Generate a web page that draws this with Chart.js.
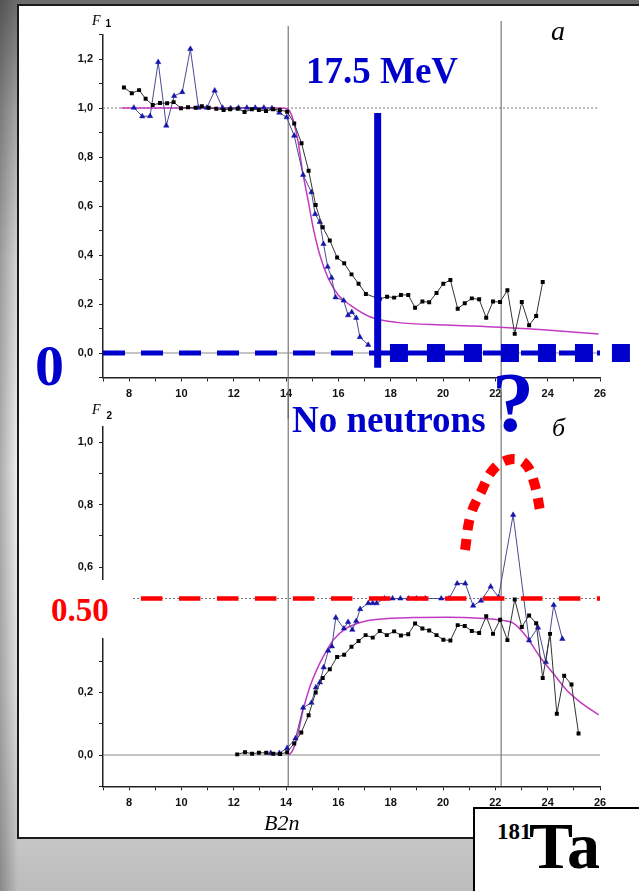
<!DOCTYPE html>
<html>
<head>
<meta charset="utf-8">
<script src="https://cdn.jsdelivr.net/npm/chart.js@4.4.0/dist/chart.umd.min.js"></script>
<style>
  html, body { margin: 0; padding: 0; }
  body {
    width: 639px;
    height: 891px;
    overflow: hidden;
    position: relative;
    background:
      linear-gradient(to right, rgba(40, 40, 40, 0.35), rgba(40, 40, 40, 0) 18px),
      linear-gradient(to bottom, #6c6c6c 0px, #a6a6a6 110px, #d8d8d8 260px, #f1f1f1 470px, #e2e2e2 680px, #c6c6c6 840px, #bcbcbc 891px);
  }
  #panel {
    position: absolute;
    left: 17px;
    top: 4px;
    width: 660px;
    height: 835px;
    box-sizing: border-box;
    border: 2px solid #1b1b1b;
    background: #fff;
  }
  canvas { position: absolute; left: 0; top: 0; }
  .note { position: absolute; white-space: nowrap; line-height: 1; }
  .serif { font-family: "Liberation Serif", "Times New Roman", serif; }
  .sans { font-family: "Liberation Sans", Arial, sans-serif; }
  .blue { color: #0000cc; font-weight: bold; }
  .red { color: #ff0000; font-weight: bold; }
  #cover { position: absolute; left: 45px; top: 580px; width: 88px; height: 58px; background: #fff; }
  #nucleus {
    position: absolute;
    left: 473px;
    top: 807px;
    width: 200px;
    height: 120px;
    box-sizing: border-box;
    border: 2px solid #000;
    background: #fff;
  }
</style>
</head>
<body>
<div id="panel"></div>
<canvas id="chartF1" width="639" height="891"></canvas>
<canvas id="chartF2" width="639" height="891"></canvas>

<div id="cover"></div>
<div class="note serif" style="left:92px; top:14px; font-size:14px; font-style:italic;">F</div>
<div class="note sans" style="left:105.5px; top:18.5px; font-size:10px; font-weight:bold;">1</div>
<div class="note serif" style="left:92px; top:403px; font-size:14px; font-style:italic;">F</div>
<div class="note sans" style="left:106.5px; top:410.5px; font-size:10px; font-weight:bold;">2</div>
<div class="note serif" style="left:551px; top:16.5px; font-size:28px; font-style:italic;">а</div>
<div class="note serif" style="left:552px; top:415px; font-size:26px; font-style:italic;">б</div>
<div class="note serif blue" style="left:306px; top:52px; font-size:37px;">17.5 MeV</div>
<div class="note serif blue" style="left:292px; top:401px; font-size:37px;">No neutrons</div>
<div class="note serif blue" style="left:492px; top:361px; font-size:84px;">?</div>
<div class="note serif blue" style="left:35px; top:337px; font-size:58px;">0</div>
<div class="note serif red" style="left:51px; top:594px; font-size:33px;">0.50</div>
<div class="note serif" style="left:264px; top:811.6px; font-size:22px; font-style:italic;">B2n</div>
<div id="nucleus"></div>
<div class="note serif" style="left:497px; top:820px; font-size:23px; font-weight:bold;">181</div>
<div class="note serif" style="left:529px; top:813px; font-size:66px; font-weight:bold;">Ta</div>

<script>
// F1 panel (a): black squares
const f1SquaresX = [7.80, 8.10, 8.38, 8.63, 8.90, 9.18, 9.45, 9.70, 9.98, 10.25,
  10.54, 10.78, 11.04, 11.33, 11.61, 11.86, 12.15, 12.41, 12.69, 12.96,
  13.23, 13.50, 13.76, 14.04, 14.31, 14.59, 14.86, 15.13, 15.40, 15.67,
  15.95, 16.22, 16.50, 16.77, 17.05, 17.58, 17.86, 18.13, 18.39, 18.67,
  18.93, 19.21, 19.47, 19.75, 20.01, 20.28, 20.56, 20.83, 21.10, 21.38,
  21.65, 21.91, 22.18, 22.46, 22.74, 23.01, 23.29, 23.56, 23.81];
const f1SquaresY = [1.084, 1.060, 1.073, 1.038, 1.012, 1.020, 1.019, 1.024, 0.999, 1.003,
  1.001, 1.007, 1.001, 0.997, 0.992, 0.995, 0.997, 0.984, 0.995, 0.992,
  0.988, 0.995, 0.992, 0.985, 0.937, 0.856, 0.744, 0.604, 0.513, 0.459,
  0.390, 0.366, 0.321, 0.283, 0.241, 0.220, 0.230, 0.226, 0.237, 0.237,
  0.185, 0.210, 0.207, 0.245, 0.283, 0.298, 0.181, 0.203, 0.223, 0.219,
  0.144, 0.210, 0.208, 0.256, 0.078, 0.208, 0.113, 0.151, 0.290];

// F1 panel (a): blue triangles
const f1TrianglesX = [8.18, 8.50, 8.80, 9.11, 9.42, 9.72, 10.03, 10.34, 10.65, 10.97,
  11.27, 11.57, 11.88, 12.18, 12.50, 12.82, 13.15, 13.46, 13.74, 14.02,
  14.31, 14.65, 14.97, 15.11, 15.29, 15.43, 15.59, 15.74, 15.89, 16.20,
  16.37, 16.51, 16.68, 16.82, 17.14];
const f1TrianglesY = [1.001, 0.966, 0.967, 1.187, 0.928, 1.049, 1.065, 1.241, 1.001, 1.001,
  1.071, 1.001, 0.999, 1.001, 1.001, 1.001, 1.001, 0.999, 0.981, 0.962,
  0.887, 0.727, 0.656, 0.567, 0.535, 0.445, 0.352, 0.307, 0.227, 0.214,
  0.154, 0.167, 0.143, 0.065, 0.033];

// F1 panel (a): fitted curve
const f1CurveX = [7.7, 9, 10, 11, 12, 13, 13.8, 14.0, 14.15, 14.27, 14.46, 14.63,
  14.85, 15.04, 15.29, 15.61, 15.99, 16.44, 17.2, 18.22, 20.13, 22.17, 24.46, 25.95];
const f1CurveY = [1.0, 1.0, 1.0, 1.0, 1.0, 1.0, 1.0, 0.998, 0.985, 0.951, 0.862, 0.740,
  0.618, 0.509, 0.400, 0.305, 0.237, 0.196, 0.148, 0.125, 0.114, 0.105, 0.090, 0.078];

// F2 panel (б): black squares
const f2SquaresX = [12.13, 12.43, 12.70, 12.96, 13.24, 13.51, 13.77, 14.04,
  14.31, 14.58, 14.86, 15.13, 15.40, 15.67, 15.95, 16.22, 16.50, 16.77,
  17.04, 17.31, 17.58, 17.85, 18.13, 18.39, 18.67, 18.93, 19.21, 19.47,
  19.75, 20.01, 20.28, 20.56, 20.83, 21.10, 21.38, 21.65, 21.91, 22.18,
  22.46, 22.74, 23.01, 23.29, 23.56, 23.81, 24.09, 24.35, 24.63, 24.91, 25.18];
const f2SquaresY = [0.002, 0.009, 0.004, 0.007, 0.007, 0.004, 0.003, 0.009,
  0.037, 0.072, 0.127, 0.200, 0.246, 0.274, 0.313, 0.320, 0.346, 0.364,
  0.383, 0.375, 0.396, 0.383, 0.395, 0.382, 0.386, 0.420, 0.404, 0.398,
  0.383, 0.368, 0.366, 0.415, 0.412, 0.396, 0.390, 0.443, 0.387, 0.432,
  0.367, 0.497, 0.409, 0.446, 0.421, 0.246, 0.387, 0.132, 0.253, 0.225, 0.069];

// F2 panel (б): blue triangles
const f2TrianglesX = [13.41, 13.74, 14.04, 14.36, 14.65, 14.97, 15.14, 15.29, 15.44, 15.61,
  15.75, 15.90, 16.21, 16.37, 16.53, 16.68, 16.83, 17.14, 17.31, 17.46,
  17.76, 18.07, 18.37, 18.68, 18.98, 19.32, 19.93, 20.23, 20.54, 20.85,
  21.15, 21.45, 21.82, 22.12, 22.68, 23.29, 23.63, 23.93, 24.23, 24.56];
const f2TrianglesY = [0.006, 0.006, 0.022, 0.053, 0.151, 0.167, 0.216, 0.232, 0.280, 0.333,
  0.347, 0.439, 0.404, 0.425, 0.400, 0.428, 0.466, 0.485, 0.485, 0.485,
  0.500, 0.500, 0.500, 0.500, 0.500, 0.500, 0.500, 0.500, 0.548, 0.548,
  0.477, 0.493, 0.538, 0.504, 0.767, 0.366, 0.407, 0.297, 0.479, 0.371];

// F2 panel (б): fitted curve
const f2CurveX = [14.12, 14.25, 14.4, 14.65, 14.91, 15.17, 15.42, 15.8, 16.31, 16.95, 17.58,
  18.86, 20.13, 21.41, 22.17, 22.68, 23.19, 23.70, 24.21, 24.72, 25.23, 25.95];
const f2CurveY = [0.0, 0.015, 0.048, 0.144, 0.218, 0.272, 0.314, 0.367, 0.405, 0.426, 0.434,
  0.439, 0.440, 0.437, 0.431, 0.421, 0.378, 0.314, 0.261, 0.208, 0.170, 0.128];

// row of blocks on the zero line past the threshold (start, end of the run)
const noNeutronRun = [17.97, 27.18];
// dotted arc over the F2 spike
const arcX = [20.84, 21.05, 21.45, 21.95, 22.6, 23.15, 23.5, 23.72];
const arcY = [0.655, 0.765, 0.84, 0.915, 0.945, 0.93, 0.865, 0.775];

const thresholdMeV = 17.5;
const halfLevel = 0.5;
const markerLinesX = [14.08, 22.22];

const BLUE = "#0000cc";
const RED = "#ff0000";

function pts(xs, ys) {
  return xs.map((x, i) => ({ x, y: ys[i] }));
}

function line(data, color, width, extra) {
  return Object.assign(
    { data, showLine: true, borderColor: color, borderWidth: width, pointRadius: 0, fill: false },
    extra,
  );
}

function squares(data, order) {
  return {
    data, order, showLine: true,
    borderColor: "#333", borderWidth: 1,
    pointStyle: "rect", pointRadius: 2.8,
    pointBackgroundColor: "#000", pointBorderColor: "#000", pointBorderWidth: 0,
  };
}

function triangles(data, order) {
  return {
    data, order, showLine: true,
    borderColor: "#4a4a92", borderWidth: 1,
    pointStyle: "triangle", pointRadius: 3.1,
    pointBackgroundColor: "#1414a8", pointBorderColor: "#1414a8", pointBorderWidth: 0.5,
  };
}

function curve(data, order) {
  return line(data, "#c23ac2", 1.5, { order, cubicInterpolationMode: "monotone" });
}

function scales(yMin, yMax) {
  const tickFont = { family: "'Liberation Sans', Arial, sans-serif", weight: "bold", size: 11 };
  return {
    x: {
      type: "linear", min: 7, max: 26,
      afterFit: (s) => { s.height = 30; },
      ticks: {
        stepSize: 1, autoSkip: false, maxRotation: 0, padding: 6, color: "#111", font: tickFont,
        callback: (v) => (v % 2 === 0 ? String(v) : ""),
      },
      grid: { drawOnChartArea: false, drawTicks: true, tickLength: 4, color: "#222", lineWidth: 1 },
      border: { display: true, color: "#222", width: 1.5 },
    },
    y: {
      type: "linear", min: yMin, max: yMax,
      afterFit: (s) => { s.width = 45; },
      afterBuildTicks: (s) => {
        s.ticks = s.ticks.filter((t) => Math.abs(t.value * 10 - Math.round(t.value * 10)) < 1e-6);
      },
      ticks: {
        stepSize: 0.1, padding: 6, color: "#111", font: tickFont,
        callback: (v) => {
          const k = Math.round(v * 10);
          return k >= 0 && k % 2 === 0 ? (k / 10).toFixed(1).replace(".", ",") : "";
        },
      },
      grid: { drawOnChartArea: false, drawTicks: true, tickLength: 4, color: "#222", lineWidth: 1 },
      border: { display: true, color: "#222", width: 1.5 },
    },
  };
}

function makeChart(id, datasets, yMin, yMax, padding) {
  return new Chart(document.getElementById(id), {
    type: "scatter",
    data: { datasets },
    options: {
      responsive: false,
      animation: false,
      events: [],
      layout: { autoPadding: false, padding },
      plugins: { legend: { display: false }, tooltip: { enabled: false } },
      scales: scales(yMin, yMax),
    },
  });
}

// top panel: F1
makeChart("chartF1", [
  line([{ x: markerLinesX[0], y: -0.27 }, { x: markerLinesX[0], y: 1.335 }], "#5e5e5e", 1, { order: 10, clip: false }),
  line([{ x: markerLinesX[1], y: -0.27 }, { x: markerLinesX[1], y: 1.355 }], "#5e5e5e", 1, { order: 10, clip: false }),
  line([{ x: 7, y: 1 }, { x: 25.9, y: 1 }], "#777", 1, { order: 9, borderDash: [2, 2] }),
  line([{ x: 7, y: 0 }, { x: 26, y: 0 }], "#888", 1, { order: 9 }),
  curve(pts(f1CurveX, f1CurveY), 6),
  triangles(pts(f1TrianglesX, f1TrianglesY), 5),
  squares(pts(f1SquaresX, f1SquaresY), 4),
  line([{ x: 7, y: 0 }, { x: 26, y: 0 }], BLUE, 5, { order: 3, borderDash: [22, 16], borderCapStyle: "butt" }),
  // blocks: 18px squares every 37px along y = 0
  line(noNeutronRun.map((x) => ({ x, y: 0 })), BLUE, 18, { order: 2, clip: false, borderDash: [18, 19], borderCapStyle: "butt" }),
  line([{ x: thresholdMeV, y: -0.06 }, { x: thresholdMeV, y: 0.98 }], BLUE, 7, { order: 1, borderCapStyle: "butt" }),
], -0.1, 1.3, { left: 58, right: 39, top: 34.5, bottom: 483.5 });

// bottom panel: F2
makeChart("chartF2", [
  line([{ x: markerLinesX[0], y: -0.1 }, { x: markerLinesX[0], y: 1.16 }], "#5e5e5e", 1, { order: 10, clip: false }),
  line([{ x: markerLinesX[1], y: -0.1 }, { x: markerLinesX[1], y: 1.16 }], "#5e5e5e", 1, { order: 10, clip: false }),
  line([{ x: 8.15, y: halfLevel }, { x: 25.9, y: halfLevel }], "#777", 1, { order: 9, borderDash: [2, 2] }),
  line([{ x: 7, y: 0 }, { x: 26, y: 0 }], "#888", 1, { order: 9 }),
  curve(pts(f2CurveX, f2CurveY), 6),
  triangles(pts(f2TrianglesX, f2TrianglesY), 5),
  squares(pts(f2SquaresX, f2SquaresY), 4),
  line([{ x: 8.45, y: halfLevel }, { x: 26, y: halfLevel }], RED, 4.5, { order: 3, borderDash: [21.5, 16.5], borderCapStyle: "butt" }),
  line(pts(arcX, arcY), RED, 10, { order: 2, tension: 0.4, borderDash: [11, 9], borderCapStyle: "butt" }),
], -0.1, 1.05, { left: 58, right: 39, top: 426.35, bottom: 74.7 });
</script>
</body>
</html>
